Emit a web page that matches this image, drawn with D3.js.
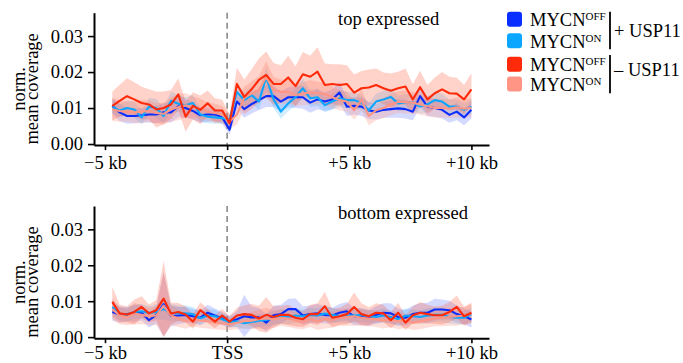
<!DOCTYPE html>
<html>
<head>
<meta charset="utf-8">
<script src="https://cdn.jsdelivr.net/npm/d3@7"></script>
<style>
  html, body { margin: 0; padding: 0; background: #fff; }
  svg { display: block; font-family: "Liberation Serif", "Times New Roman", serif; }
</style>
</head>
<body>
<svg id="chart" width="683" height="363"></svg>
<script>
// Bin centres (kb relative to the TSS)
const positions = [-4.7, -4.4, -4.1, -3.8, -3.5, -3.2, -2.9, -2.6, -2.3, -2.0,
  -1.7, -1.4, -1.1, -0.8, -0.5, -0.2, 0.1, 0.4, 0.7, 1.0,
  1.3, 1.6, 1.9, 2.2, 2.5, 2.8, 3.1, 3.4, 3.7, 4.0,
  4.3, 4.6, 4.9, 5.2, 5.5, 5.8, 6.1, 6.4, 6.7, 7.0,
  7.3, 7.6, 7.9, 8.2, 8.5, 8.8, 9.1, 9.4, 9.7, 10.0];

const xTickValues = [-5, 0, 5, 10];
const xTickLabels = ["\u22125 kb", "TSS", "+5 kb", "+10 kb"];
const yTickValues = [0, 0.01, 0.02, 0.03];

const seriesNames = ["offPlus", "onPlus", "onMinus", "offMinus"];
const seriesColors = { offPlus: "#0a2eff", onPlus: "#0aa6ff", offMinus: "#ff2a0a", onMinus: "#ff9585" };

// ---- top expressed genes: mean coverage and band half-width ----
const topOffPlus = [0.0106, 0.0088, 0.0078, 0.0078, 0.0080, 0.0082, 0.0082, 0.0088, 0.0088, 0.0105,
  0.0100, 0.0092, 0.0080, 0.0082, 0.0082, 0.0074, 0.0040, 0.0118, 0.0097, 0.0111,
  0.0122, 0.0133, 0.0133, 0.0118, 0.0130, 0.0130, 0.0130, 0.0115, 0.0124, 0.0118,
  0.0124, 0.0143, 0.0104, 0.0106, 0.0104, 0.0093, 0.0090, 0.0095, 0.0097, 0.0099,
  0.0097, 0.0090, 0.0133, 0.0104, 0.0100, 0.0095, 0.0081, 0.0090, 0.0074, 0.0095];
const topOffPlusErr = [0.0022, 0.0024, 0.0022, 0.0020, 0.0020, 0.0022, 0.0024, 0.0026, 0.0028, 0.0030,
  0.0026, 0.0024, 0.0020, 0.0020, 0.0018, 0.0018, 0.0014, 0.0022, 0.0024, 0.0026,
  0.0028, 0.0030, 0.0030, 0.0028, 0.0028, 0.0030, 0.0032, 0.0028, 0.0028, 0.0026,
  0.0028, 0.0030, 0.0026, 0.0024, 0.0026, 0.0024, 0.0022, 0.0022, 0.0024, 0.0026,
  0.0026, 0.0024, 0.0030, 0.0026, 0.0024, 0.0024, 0.0022, 0.0024, 0.0022, 0.0024];

const topOnPlus = [0.0104, 0.0093, 0.0100, 0.0096, 0.0074, 0.0104, 0.0100, 0.0078, 0.0120, 0.0112,
  0.0108, 0.0114, 0.0082, 0.0076, 0.0074, 0.0072, 0.0068, 0.0145, 0.0122, 0.0136,
  0.0118, 0.0185, 0.0124, 0.0090, 0.0113, 0.0130, 0.0155, 0.0127, 0.0130, 0.0108,
  0.0118, 0.0127, 0.0122, 0.0122, 0.0115, 0.0094, 0.0118, 0.0124, 0.0131, 0.0113,
  0.0116, 0.0116, 0.0104, 0.0110, 0.0122, 0.0118, 0.0104, 0.0104, 0.0095, 0.0104];
const topOnPlusErr = [0.0020, 0.0018, 0.0020, 0.0022, 0.0020, 0.0024, 0.0026, 0.0022, 0.0026, 0.0024,
  0.0022, 0.0022, 0.0020, 0.0018, 0.0018, 0.0016, 0.0014, 0.0024, 0.0022, 0.0024,
  0.0022, 0.0030, 0.0024, 0.0020, 0.0022, 0.0024, 0.0028, 0.0024, 0.0024, 0.0020,
  0.0022, 0.0024, 0.0022, 0.0022, 0.0022, 0.0020, 0.0022, 0.0024, 0.0024, 0.0022,
  0.0022, 0.0022, 0.0020, 0.0022, 0.0024, 0.0022, 0.0020, 0.0020, 0.0018, 0.0020];

const topOffMinus = [0.0106, 0.0120, 0.0133, 0.0124, 0.0114, 0.0110, 0.0096, 0.0100, 0.0110, 0.0138,
  0.0076, 0.0106, 0.0095, 0.0113, 0.0093, 0.0093, 0.0058, 0.0167, 0.0131, 0.0152,
  0.0178, 0.0192, 0.0167, 0.0167, 0.0185, 0.0161, 0.0194, 0.0187, 0.0201, 0.0164,
  0.0167, 0.0164, 0.0167, 0.0143, 0.0155, 0.0157, 0.0164, 0.0155, 0.0148, 0.0155,
  0.0160, 0.0124, 0.0158, 0.0124, 0.0141, 0.0152, 0.0141, 0.0140, 0.0124, 0.0152];
const topOffMinusErr = [0.0040, 0.0045, 0.0050, 0.0048, 0.0045, 0.0042, 0.0050, 0.0046, 0.0040, 0.0044,
  0.0042, 0.0038, 0.0040, 0.0036, 0.0034, 0.0030, 0.0025, 0.0045, 0.0048, 0.0055,
  0.0060, 0.0065, 0.0058, 0.0052, 0.0060, 0.0055, 0.0062, 0.0058, 0.0068, 0.0060,
  0.0055, 0.0058, 0.0052, 0.0050, 0.0048, 0.0050, 0.0046, 0.0044, 0.0048, 0.0046,
  0.0050, 0.0042, 0.0046, 0.0040, 0.0044, 0.0048, 0.0046, 0.0044, 0.0040, 0.0045];

const topOnMinus = [0.0096, 0.0092, 0.0090, 0.0088, 0.0090, 0.0092, 0.0086, 0.0084, 0.0096, 0.0102,
  0.0108, 0.0102, 0.0098, 0.0090, 0.0086, 0.0082, 0.0062, 0.0082, 0.0128, 0.0140,
  0.0150, 0.0186, 0.0150, 0.0145, 0.0145, 0.0136, 0.0140, 0.0144, 0.0142, 0.0139,
  0.0130, 0.0122, 0.0118, 0.0094, 0.0122, 0.0078, 0.0094, 0.0100, 0.0110, 0.0117,
  0.0117, 0.0115, 0.0110, 0.0105, 0.0100, 0.0100, 0.0098, 0.0102, 0.0098, 0.0101];
const topOnMinusErr = [0.0032, 0.0030, 0.0028, 0.0030, 0.0032, 0.0030, 0.0028, 0.0030, 0.0034, 0.0036,
  0.0034, 0.0030, 0.0028, 0.0026, 0.0026, 0.0024, 0.0020, 0.0028, 0.0032, 0.0034,
  0.0038, 0.0045, 0.0036, 0.0034, 0.0034, 0.0030, 0.0032, 0.0034, 0.0032, 0.0030,
  0.0030, 0.0028, 0.0028, 0.0026, 0.0030, 0.0026, 0.0028, 0.0028, 0.0030, 0.0030,
  0.0032, 0.0030, 0.0028, 0.0028, 0.0026, 0.0026, 0.0026, 0.0028, 0.0026, 0.0026];

// ---- bottom expressed genes ----
const botOffPlus = [0.0070, 0.0063, 0.0064, 0.0066, 0.0068, 0.0047, 0.0062, 0.0092, 0.0059, 0.0060,
  0.0062, 0.0058, 0.0054, 0.0068, 0.0060, 0.0052, 0.0043, 0.0050, 0.0058, 0.0055,
  0.0055, 0.0040, 0.0061, 0.0064, 0.0078, 0.0078, 0.0060, 0.0064, 0.0066, 0.0062,
  0.0060, 0.0068, 0.0072, 0.0058, 0.0056, 0.0053, 0.0062, 0.0068, 0.0066, 0.0056,
  0.0054, 0.0064, 0.0068, 0.0068, 0.0077, 0.0077, 0.0075, 0.0064, 0.0058, 0.0049];
const botOffPlusErr = [0.0024, 0.0022, 0.0020, 0.0024, 0.0022, 0.0020, 0.0024, 0.0090, 0.0028, 0.0024,
  0.0022, 0.0020, 0.0020, 0.0022, 0.0020, 0.0018, 0.0016, 0.0022, 0.0060, 0.0030,
  0.0026, 0.0024, 0.0026, 0.0026, 0.0028, 0.0030, 0.0026, 0.0024, 0.0026, 0.0024,
  0.0022, 0.0024, 0.0026, 0.0024, 0.0022, 0.0022, 0.0024, 0.0026, 0.0028, 0.0024,
  0.0022, 0.0024, 0.0026, 0.0028, 0.0030, 0.0028, 0.0026, 0.0024, 0.0022, 0.0022];

const botOnPlus = [0.0084, 0.0065, 0.0062, 0.0070, 0.0072, 0.0068, 0.0070, 0.0078, 0.0068, 0.0066,
  0.0066, 0.0064, 0.0052, 0.0060, 0.0058, 0.0050, 0.0042, 0.0044, 0.0039, 0.0042,
  0.0046, 0.0048, 0.0052, 0.0058, 0.0056, 0.0060, 0.0058, 0.0062, 0.0060, 0.0066,
  0.0062, 0.0058, 0.0060, 0.0060, 0.0062, 0.0058, 0.0056, 0.0060, 0.0056, 0.0050,
  0.0060, 0.0058, 0.0056, 0.0060, 0.0062, 0.0062, 0.0056, 0.0054, 0.0054, 0.0064];
const botOnPlusErr = [0.0020, 0.0018, 0.0018, 0.0020, 0.0020, 0.0018, 0.0020, 0.0030, 0.0024, 0.0022,
  0.0022, 0.0020, 0.0018, 0.0018, 0.0018, 0.0016, 0.0014, 0.0016, 0.0016, 0.0018,
  0.0018, 0.0018, 0.0020, 0.0020, 0.0020, 0.0020, 0.0018, 0.0020, 0.0020, 0.0022,
  0.0020, 0.0018, 0.0020, 0.0020, 0.0020, 0.0018, 0.0018, 0.0020, 0.0018, 0.0018,
  0.0020, 0.0018, 0.0018, 0.0020, 0.0020, 0.0020, 0.0018, 0.0018, 0.0018, 0.0020];

const botOffMinus = [0.0098, 0.0066, 0.0063, 0.0070, 0.0084, 0.0066, 0.0075, 0.0107, 0.0066, 0.0070,
  0.0063, 0.0043, 0.0075, 0.0059, 0.0043, 0.0060, 0.0043, 0.0060, 0.0064, 0.0062,
  0.0052, 0.0062, 0.0056, 0.0062, 0.0062, 0.0054, 0.0050, 0.0064, 0.0064, 0.0086,
  0.0054, 0.0058, 0.0064, 0.0084, 0.0064, 0.0058, 0.0068, 0.0066, 0.0047, 0.0068,
  0.0040, 0.0061, 0.0068, 0.0064, 0.0061, 0.0061, 0.0070, 0.0084, 0.0058, 0.0068];
const botOffMinusErr = [0.0042, 0.0025, 0.0022, 0.0035, 0.0030, 0.0025, 0.0028, 0.0105, 0.0030, 0.0025,
  0.0022, 0.0020, 0.0022, 0.0020, 0.0018, 0.0018, 0.0016, 0.0022, 0.0025, 0.0030,
  0.0035, 0.0050, 0.0030, 0.0025, 0.0028, 0.0024, 0.0022, 0.0026, 0.0030, 0.0040,
  0.0025, 0.0024, 0.0028, 0.0040, 0.0030, 0.0025, 0.0026, 0.0024, 0.0022, 0.0028,
  0.0020, 0.0024, 0.0030, 0.0026, 0.0024, 0.0026, 0.0028, 0.0032, 0.0026, 0.0028];

const botOnMinus = [0.0078, 0.0060, 0.0055, 0.0066, 0.0062, 0.0058, 0.0060, 0.0088, 0.0060, 0.0052,
  0.0045, 0.0050, 0.0046, 0.0044, 0.0040, 0.0038, 0.0036, 0.0040, 0.0044, 0.0046,
  0.0050, 0.0052, 0.0050, 0.0054, 0.0052, 0.0046, 0.0042, 0.0050, 0.0044, 0.0050,
  0.0048, 0.0054, 0.0056, 0.0058, 0.0054, 0.0052, 0.0050, 0.0046, 0.0048, 0.0044,
  0.0046, 0.0040, 0.0044, 0.0048, 0.0052, 0.0054, 0.0056, 0.0058, 0.0060, 0.0066];
const botOnMinusErr = [0.0030, 0.0024, 0.0022, 0.0030, 0.0026, 0.0024, 0.0026, 0.0090, 0.0028, 0.0024,
  0.0022, 0.0020, 0.0020, 0.0020, 0.0018, 0.0018, 0.0016, 0.0018, 0.0020, 0.0024,
  0.0026, 0.0030, 0.0024, 0.0022, 0.0024, 0.0022, 0.0020, 0.0022, 0.0024, 0.0026,
  0.0022, 0.0022, 0.0024, 0.0026, 0.0024, 0.0022, 0.0022, 0.0022, 0.0020, 0.0022,
  0.0020, 0.0020, 0.0022, 0.0022, 0.0022, 0.0024, 0.0024, 0.0026, 0.0024, 0.0026];

const panels = [
  { title: "top expressed", top: 12.7, bottom: 145.1, labelPad: 6,
    series: { offPlus: [topOffPlus, topOffPlusErr], onPlus: [topOnPlus, topOnPlusErr],
              offMinus: [topOffMinus, topOffMinusErr], onMinus: [topOnMinus, topOnMinusErr] } },
  { title: "bottom expressed", top: 206, bottom: 338.2, labelPad: 2.5,
    series: { offPlus: [botOffPlus, botOffPlusErr], onPlus: [botOnPlus, botOnPlusErr],
              offMinus: [botOffMinus, botOffMinusErr], onMinus: [botOnMinus, botOnMinusErr] } }
];

const bandStyle = {
  offPlus: { fill: "#2a45ff", opacity: 0.2 },
  onPlus: { fill: "#1aaaff", opacity: 0.2 },
  offMinus: { fill: "#ff5a3c", opacity: 0.27 },
  onMinus: { fill: "#ff9a88", opacity: 0.32 }
};

const svg = d3.select("#chart");
const left = 94, right = 489;
const x = d3.scaleLinear().domain([-5.45, 10.72]).range([left, right]);
const fontSize = 18.5;

panels.forEach(p => {
  const y = d3.scaleLinear().domain([-0.0003, 0.0365]).range([p.bottom, p.top]);
  const g = svg.append("g");

  // TSS marker
  g.append("line")
    .attr("x1", x(0)).attr("x2", x(0))
    .attr("y1", p.top).attr("y2", p.bottom)
    .attr("stroke", "#8a8a8a").attr("stroke-width", 1.6)
    .attr("stroke-dasharray", "6,4");

  // confidence bands
  seriesNames.forEach(name => {
    const [vals, errs] = p.series[name];
    const rows = positions.map((pos, i) => ({ pos, v: vals[i], e: errs[i] }));
    const area = d3.area()
      .x(d => x(d.pos))
      .y0(d => y(Math.max(0, d.v - d.e)))
      .y1(d => y(d.v + d.e));
    g.append("path").datum(rows)
      .attr("d", area)
      .attr("fill", bandStyle[name].fill)
      .attr("fill-opacity", bandStyle[name].opacity)
      .attr("stroke", "none");
  });

  // mean lines
  seriesNames.forEach(name => {
    const [vals] = p.series[name];
    const rows = positions.map((pos, i) => ({ pos, v: vals[i] }));
    const line = d3.line().x(d => x(d.pos)).y(d => y(d.v));
    g.append("path").datum(rows)
      .attr("d", line)
      .attr("fill", "none")
      .attr("stroke", seriesColors[name])
      .attr("stroke-width", 2.1)
      .attr("stroke-linejoin", "round");
  });

  // axes
  const yAxis = d3.axisLeft(y).tickValues(yTickValues).tickFormat(d3.format(".2f"))
    .tickSize(6).tickSizeOuter(0).tickPadding(5);
  const gy = svg.append("g").attr("transform", `translate(${left},0)`).call(yAxis);

  const xAxis = d3.axisBottom(x).tickValues(xTickValues)
    .tickFormat((d, i) => xTickLabels[i]).tickSize(5).tickSizeOuter(0).tickPadding(p.labelPad);
  const gx = svg.append("g").attr("transform", `translate(0,${p.bottom})`).call(xAxis);

  [gx, gy].forEach(a => {
    a.select(".domain").attr("stroke", "#000").attr("stroke-width", 2);
    a.selectAll(".tick line").attr("stroke", "#000").attr("stroke-width", 1.6);
    a.selectAll(".tick text").attr("fill", "#000")
      .style("font-family", "'Liberation Serif', serif").style("font-size", fontSize + "px");
  });

  // panel title
  svg.append("text")
    .attr("x", 338).attr("y", p.top + 12.5)
    .style("font-size", fontSize + "px")
    .text(p.title);

  // y-axis label
  const cy = (p.top + p.bottom) / 2 + 10;
  const lab = svg.append("text")
    .attr("transform", `translate(25,${cy}) rotate(-90)`)
    .attr("text-anchor", "middle")
    .style("font-size", fontSize + "px");
  lab.append("tspan").attr("x", 0).attr("y", 0).text("norm.");
  lab.append("tspan").attr("x", 0).attr("y", 12.5).text("mean coverage");
});

// legend
const legendRows = [
  { name: "offPlus", sup: "OFF", cy: 19.2 },
  { name: "onPlus", sup: "ON", cy: 40.7 },
  { name: "offMinus", sup: "OFF", cy: 64.2 },
  { name: "onMinus", sup: "ON", cy: 84 }
];
const lg = svg.append("g");
legendRows.forEach(r => {
  lg.append("rect")
    .attr("x", 507).attr("y", r.cy - 7.5)
    .attr("width", 15).attr("height", 15).attr("rx", 3)
    .attr("fill", seriesColors[r.name]);
  const t = lg.append("text")
    .attr("x", 530).attr("y", r.cy + 6.8)
    .style("font-size", fontSize + "px");
  t.append("tspan").text("MYCN");
  t.append("tspan").attr("dy", -6).style("font-size", "11px").text(r.sup);
});
const groups = [
  { label: "+ USP11", y1: 11.7, y2: 49.3, base: 36.5 },
  { label: "\u2013 USP11", y1: 55, y2: 93.3, base: 76 }
];
groups.forEach(gr => {
  lg.append("line")
    .attr("x1", 610).attr("x2", 610).attr("y1", gr.y1).attr("y2", gr.y2)
    .attr("stroke", "#000").attr("stroke-width", 1.8);
  lg.append("text")
    .attr("x", 614).attr("y", gr.base)
    .style("font-size", fontSize + "px")
    .text(gr.label);
});
</script>
</body>
</html>
